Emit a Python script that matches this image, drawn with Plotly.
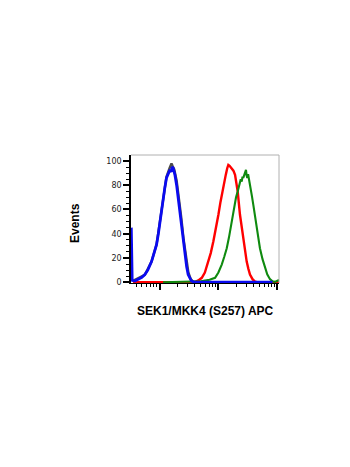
import plotly.graph_objects as go

# Fluorescence intensity (log axis) and % of max events
gray_x = [3.467, 5.623, 7.311, 8.892, 10.14, 11.53, 13.12, 14.79, 15.96, 16.60, 17.78, 19.50, 21.38,
          23.44, 25.70, 28.18, 30.90, 33.88, 37.15, 39.81]
gray_y = [1, 6, 17, 31, 50, 70, 87, 94, 98, 96, 93, 84, 70, 53, 35, 19, 8, 2.5, 0.5, 0]

red_x = [3.548, 38.02, 40.27, 45.71, 52.24, 58.88, 67.61, 74.13, 82.22, 91.20, 100, 108.4, 116.7, 124.5,
         133.4, 141.3, 147.6, 154.9, 168.7, 179.9, 191.9, 201.8, 212.8, 232.8, 248.3, 264.9, 281.8,
         302.7, 323.6, 344.4, 380.2, 418.8, 457.1, 1072]
red_y = [0, 0, 0.3, 1.5, 3.6, 8, 17, 24, 33.7, 44, 55.6, 66, 74.8, 82, 88.5, 94, 96.7, 96, 94, 92,
         88.5, 82, 74.8, 55.6, 46, 36.5, 26, 17, 11, 6.3, 2.5, 0.5, 0, 0]

green_x = [11.48, 31.62, 50.12, 70.79, 87.90, 100, 114.0, 125.9, 138.7, 151.4, 164.1, 175.8, 186.6,
           199.5, 212.8, 223.9, 232.8, 239.9, 248.9, 257.0, 264.9, 275.4, 283.1, 294.4, 302.0, 309.7,
           319.9, 331.1, 342.8, 354.0, 371.5, 391.7, 416.9, 446.7, 478.6, 508.2, 562.3, 618.0, 676.1,
           751.6, 831.8, 912.0, 977.2, 1040, 1072]
green_y = [0, 0.3, 0.8, 2, 3.6, 8, 14.5, 21, 28, 37, 47, 56, 64, 70, 74.8, 79, 80.3, 85, 83, 87, 86,
           89, 91, 92.6, 88, 86, 89, 84, 82, 77.5, 71, 64, 55, 44.7, 36, 28, 19, 12, 6.5, 2.5, 0.8,
           0.3, 0.8, 1.5, 1.8]

blue_x = [3.311, 3.350, 3.428, 3.802, 4.467, 5.012, 5.623, 6.310, 7.311, 8.128, 8.892, 9.550, 10.14,
          10.84, 11.53, 12.30, 13.12, 14.13, 15.00, 15.85, 16.41, 17.06, 18.24, 19.50, 20.75, 22.13,
          23.61, 25.12, 26.92, 28.84, 30.62, 32.73, 34.83, 38.02, 41.69, 831.8]
blue_y = [45, 8, 1.5, 1, 2.5, 4, 6.3, 10, 17, 24, 31, 40, 50, 60, 69, 78, 86, 90, 92.6, 91, 95, 94,
          88.5, 80, 69.6, 57, 44.7, 33, 22.8, 13, 6.3, 3, 1, 0.2, 0, 0]

x_major = [10, 100, 1000]
x_minor = [4, 5, 6, 7, 8, 9, 20, 30, 40, 50, 60, 70, 80, 90, 200, 300, 400, 500, 600, 700, 800, 900]
y_ticks = [0, 20, 40, 60, 80, 100]

fig = go.Figure()
fig.add_trace(go.Scatter(x=gray_x, y=gray_y, mode="lines", line=dict(color="#4a4a4a", width=2.4)))
fig.add_trace(go.Scatter(x=red_x, y=red_y, mode="lines", line=dict(color="#ff0000", width=2.4)))
fig.add_trace(go.Scatter(x=green_x, y=green_y, mode="lines", line=dict(color="#0f8a0f", width=2.1)))
fig.add_trace(go.Scatter(x=blue_x, y=blue_y, mode="lines", line=dict(color="#0a0aef", width=2.8)))

fig.update_layout(
    width=350, height=467,
    margin=dict(l=131, r=71, t=155, b=184),
    paper_bgcolor="white", plot_bgcolor="white",
    showlegend=False,
    font=dict(family="DejaVu Sans", size=8, color="#222"),
    xaxis=dict(type="log", range=[0.515, 3.03], showgrid=False, zeroline=False,
               showline=True, linecolor="black", linewidth=1,
               tickvals=x_major, showticklabels=False, ticks="outside", ticklen=6,
               tickcolor="black", tickwidth=2,
               minor=dict(tickvals=x_minor, ticks="outside", ticklen=3, tickcolor="black",
                          tickwidth=1, showgrid=False)),
    yaxis=dict(range=[-0.66, 104.9], showgrid=False, zeroline=False,
               showline=True, linecolor="black", linewidth=1.5,
               tickvals=y_ticks, ticks="outside", ticklen=6, tickcolor="black", tickwidth=2,
               tickfont=dict(family="DejaVu Sans", size=8, color="#222"),
               minor=dict(dtick=5, ticks="outside", ticklen=3, tickcolor="black",
                          tickwidth=1, showgrid=False)),
    shapes=[
        dict(type="line", xref="paper", yref="paper", x0=0, x1=1, y0=1, y1=1,
             line=dict(color="#b0b0b0", width=1)),
        dict(type="line", xref="paper", yref="paper", x0=1, x1=1, y0=0, y1=1,
             line=dict(color="#b0b0b0", width=1)),
    ],
    annotations=[
        dict(text="<b>SEK1/MKK4 (S257) APC</b>", xref="paper", yref="paper", x=0.5, y=0,
             xanchor="center", yanchor="middle", yshift=-28, showarrow=False,
             font=dict(family="Liberation Sans", size=12, color="black")),
        dict(text="<b>Events</b>", xref="paper", yref="paper", x=0, y=0.5, textangle=-90,
             xanchor="center", yanchor="middle", xshift=-56, yshift=-4, showarrow=False,
             font=dict(family="Liberation Sans", size=12, color="black")),
    ],
)

fig.write_html("out.html")
